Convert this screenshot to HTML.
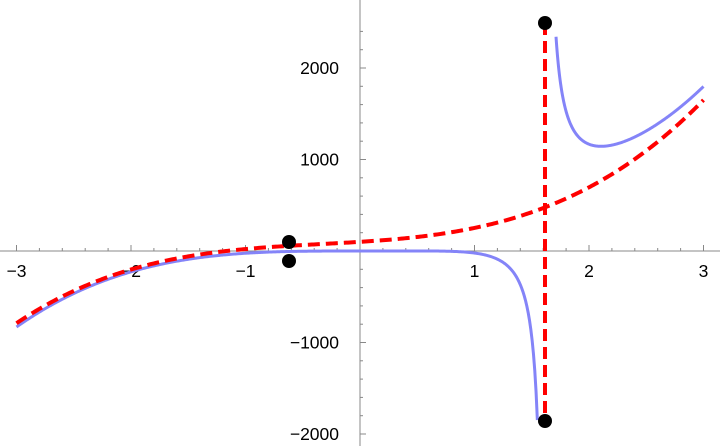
<!DOCTYPE html>
<html><head><meta charset="utf-8"><style>
html,body{margin:0;padding:0;background:#fff;}
svg{display:block;font-family:"Liberation Sans",sans-serif;}
</style></head><body>
<svg id="s" width="720" height="448" viewBox="0 0 720 448" xmlns="http://www.w3.org/2000/svg">
<g id="ax" stroke="#888" stroke-width="1"></g>
<g id="lbl" font-size="17.5" fill="#000"></g>
<path id="blue1" fill="none" stroke="#8484f8" stroke-width="3"/>
<path id="blue2" fill="none" stroke="#8484f8" stroke-width="3"/>
<path id="red" fill="none" stroke="#f00" stroke-width="4" stroke-dasharray="12,6"/>
<line x1="545" y1="23" x2="545" y2="421" stroke="#f00" stroke-width="4" stroke-dasharray="12,6"/>
<circle cx="289" cy="242" r="7"/>
<circle cx="289" cy="261" r="7"/>
<circle cx="545" cy="23" r="7"/>
<circle cx="545" cy="421" r="7"/>
</svg>
<script>
var X0=360,SX=114.5,Y0=251,SY=0.0915;
function px(x){return X0+SX*x}function py(y){return Y0-SY*y}
function blue(x){return 23.5*Math.pow(x,4)/(x-1.62)+15.5*x*x*x}
function blueR(x){return blue(x)+70*(3-x)/1.3}
function red(x){return 100+79*x+36.7*x*x+36.4*x*x*x}
function path(f,a,b){var d="";for(var i=0;i<=400;i++){var x=a+(b-a)*i/400;d+=(i?"L":"M")+px(x).toFixed(2)+" "+py(f(x)).toFixed(2);}return d}
document.getElementById("blue1").setAttribute("d",path(blue,-3,1.549));
document.getElementById("blue2").setAttribute("d",path(blueR,1.712,3));
document.getElementById("red").setAttribute("d",path(red,-3,3));
var ax=document.getElementById("ax"),lb=document.getElementById("lbl"),NS="http://www.w3.org/2000/svg";
function ln(a,b,c,d){var l=document.createElementNS(NS,"line");l.setAttribute("x1",a);l.setAttribute("y1",b);l.setAttribute("x2",c);l.setAttribute("y2",d);ax.appendChild(l);}
function tx(s,x,y,anc){var t=document.createElementNS(NS,"text");t.setAttribute("x",x);t.setAttribute("y",y);t.setAttribute("text-anchor",anc);t.textContent=s;lb.appendChild(t);}
ln(0,Y0,720,Y0);ln(X0,0,X0,446);
for(var i=-15;i<=15;i++){var x=px(i*0.2);var L=(i%5==0)?6:3;ln(x,Y0,x,Y0-L);}
for(var j=-10;j<=12;j++){var y=py(j*200);var L=(j%5==0)?6:3;ln(X0,y,X0+L,y);}
[[-3,"−3"],[-2,"−2"],[-1,"−1"],[1,"1"],[2,"2"],[3,"3"]].forEach(function(p){tx(p[1],px(p[0]),277,"middle")});
[[2000,"2000"],[1000,"1000"],[-1000,"−1000"],[-2000,"−2000"]].forEach(function(p){tx(p[1],339,py(p[0])+6,"end")});
</script>
</body></html>
